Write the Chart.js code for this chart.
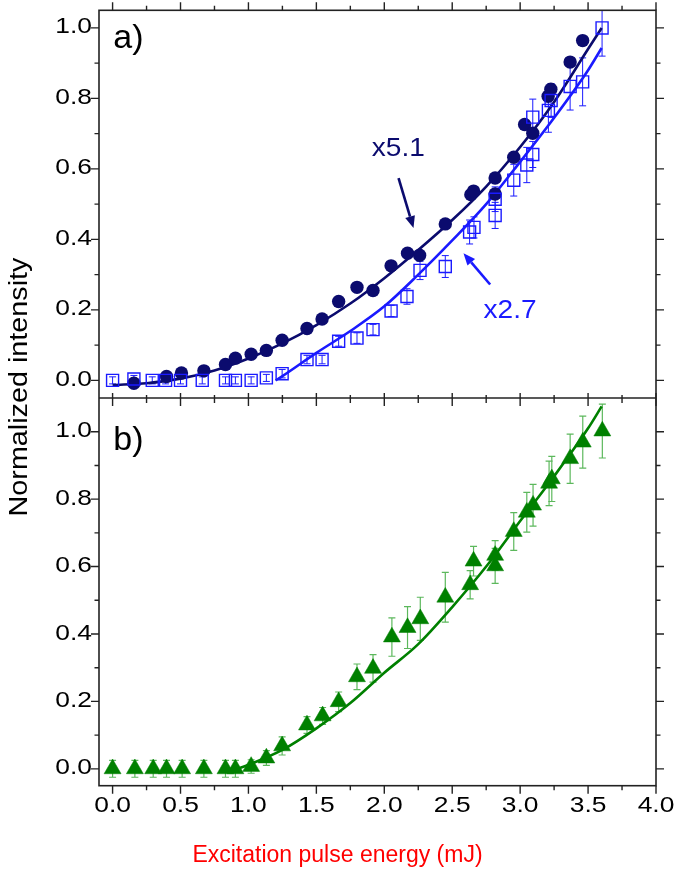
<!DOCTYPE html>
<html><head><meta charset="utf-8">
<script src="https://cdn.jsdelivr.net/npm/chart.js@4.4.1/dist/chart.umd.min.js"></script>
<style>html,body{margin:0;padding:0;background:#fff;}#wrap{width:675px;height:872px;}</style>
</head><body><div id="wrap"><canvas id="c" width="675" height="872"></canvas></div>
<script>
// ---------- ticks ----------
const xTicksMajor = [0, 0.5, 1.0, 1.5, 2.0, 2.5, 3.0, 3.5, 4.0];
const xTicksMinor = [0.25, 0.75, 1.25, 1.75, 2.25, 2.75, 3.25, 3.75];
const xTickLabels = ['0.0', '0.5', '1.0', '1.5', '2.0', '2.5', '3.0', '3.5', '4.0'];
const yTicksMajor = [0, 0.2, 0.4, 0.6, 0.8, 1.0];
const yTicksMinor = [0.1, 0.3, 0.5, 0.7, 0.9];
const yTickLabels = ['0.0', '0.2', '0.4', '0.6', '0.8', '1.0'];

// ---------- panel a: filled circles (x5.1) ----------
const circleX = [0.157, 0.397, 0.507, 0.672, 0.831, 0.904, 1.02, 1.132, 1.248, 1.431, 1.542, 1.664, 1.799, 1.917, 2.05, 2.171, 2.26, 2.449, 2.637, 2.657, 2.816, 2.816, 2.953, 3.033, 3.093, 3.206, 3.226, 3.368, 3.46];
const circleY = [-0.008, 0.011, 0.021, 0.027, 0.045, 0.063, 0.074, 0.085, 0.114, 0.147, 0.174, 0.224, 0.264, 0.255, 0.325, 0.361, 0.355, 0.444, 0.527, 0.537, 0.574, 0.529, 0.633, 0.726, 0.701, 0.806, 0.826, 0.903, 0.964];

// ---------- panel a: open squares (x2.7) ----------
const squareX = [0.0, 0.157, 0.292, 0.39, 0.5, 0.66, 0.831, 0.904, 1.02, 1.132, 1.248, 1.431, 1.542, 1.664, 1.799, 1.917, 2.05, 2.167, 2.263, 2.449, 2.628, 2.66, 2.816, 2.816, 2.953, 3.049, 3.093, 3.093, 3.208, 3.228, 3.368, 3.46, 3.603];
const squareY = [0.0, 0.004, 0.0, 0.0, 0.0, 0.0, 0.0, 0.0, 0.0, 0.007, 0.019, 0.059, 0.059, 0.111, 0.12, 0.144, 0.197, 0.238, 0.312, 0.323, 0.421, 0.434, 0.468, 0.514, 0.568, 0.611, 0.641, 0.747, 0.766, 0.794, 0.834, 0.847, 1.0];
const squareErr = [0.01, 0.01, 0.01, 0.01, 0.01, 0.01, 0.01, 0.01, 0.01, 0.01, 0.012, 0.012, 0.012, 0.014, 0.015, 0.015, 0.016, 0.022, 0.026, 0.031, 0.034, 0.03, 0.037, 0.035, 0.045, 0.05, 0.037, 0.051, 0.062, 0.048, 0.067, 0.068, 0.08];

// ---------- panel a: fit curves ----------
const navyFitX = [0, 0.25, 0.5, 0.75, 1.0, 1.25, 1.5, 1.75, 2.0, 2.25, 2.5, 2.75, 3.0, 3.25, 3.5, 3.6];
const navyFitY = [-0.013, -0.008, 0.005, 0.028, 0.062, 0.105, 0.157, 0.218, 0.29, 0.37, 0.455, 0.55, 0.662, 0.79, 0.94, 1.0];
const blueFitX = [1.2, 1.25, 1.5, 1.75, 2.0, 2.25, 2.5, 2.75, 3.0, 3.25, 3.5, 3.6];
const blueFitY = [0.0, 0.012, 0.078, 0.14, 0.21, 0.30, 0.397, 0.5, 0.62, 0.745, 0.88, 0.943];

// ---------- panel b: triangles ----------
const triX = [0.0, 0.164, 0.299, 0.397, 0.512, 0.672, 0.831, 0.904, 1.02, 1.132, 1.248, 1.431, 1.546, 1.664, 1.799, 1.917, 2.056, 2.171, 2.265, 2.449, 2.632, 2.657, 2.816, 2.816, 2.953, 3.049, 3.095, 3.213, 3.233, 3.368, 3.461, 3.605];
const triY = [0, 0, 0, 0, 0, 0, 0, 0, 0.007, 0.032, 0.068, 0.13, 0.157, 0.199, 0.273, 0.298, 0.391, 0.419, 0.445, 0.509, 0.546, 0.616, 0.602, 0.633, 0.704, 0.761, 0.782, 0.847, 0.86, 0.92, 0.969, 1.002];
const triErr = [0.025, 0.025, 0.025, 0.025, 0.025, 0.025, 0.025, 0.025, 0.02, 0.022, 0.027, 0.025, 0.025, 0.029, 0.038, 0.041, 0.057, 0.062, 0.064, 0.074, 0.042, 0.044, 0.052, 0.044, 0.056, 0.059, 0.062, 0.066, 0.067, 0.073, 0.077, 0.08];
const greenFitX = [0.92, 1.0, 1.25, 1.5, 1.75, 2.0, 2.25, 2.5, 2.75, 3.0, 3.25, 3.5, 3.6];
const greenFitY = [0.0, 0.012, 0.056, 0.12, 0.195, 0.285, 0.37, 0.48, 0.6, 0.735, 0.868, 1.01, 1.075];

// ---------- annotations (data coordinates) ----------
const annoLabels = ['x5.1', 'x2.7'];
const annoLabelX = [2.103, 2.926];
const annoLabelY = [0.657, 0.196];
const arrowFrom = [[2.105, 0.574], [2.779, 0.272]];
const arrowTo = [[2.215, 0.432], [2.583, 0.361]];
const panelLabels = ['a)', 'b)'];

const NAVY = '#0b0b6e', BLUE = '#1a1aff', GREEN = '#008000', GREEN_ERR = '#5cb85c';
const FONT = "'Liberation Sans', Arial, sans-serif";

const pts = (xs, ys) => xs.map((x, i) => ({x: x, y: ys[i]}));

function drawErr(chart, xs, ys, es, yId, color, lw) {
  const ctx = chart.ctx, sx = chart.scales.x, sy = chart.scales[yId];
  ctx.save();
  ctx.beginPath(); ctx.rect(sx.left, sy.top, sx.right - sx.left, sy.bottom - sy.top); ctx.clip();
  ctx.strokeStyle = color; ctx.lineWidth = lw;
  xs.forEach((x, i) => {
    const px = sx.getPixelForValue(x);
    const p1 = sy.getPixelForValue(ys[i] - es[i]);
    const p2 = sy.getPixelForValue(ys[i] + es[i]);
    ctx.beginPath();
    ctx.moveTo(px, p1); ctx.lineTo(px, p2);
    ctx.moveTo(px - 3.5, p1); ctx.lineTo(px + 3.5, p1);
    ctx.moveTo(px - 3.5, p2); ctx.lineTo(px + 3.5, p2);
    ctx.stroke();
  });
  ctx.restore();
}

function drawArrow(ctx, x1, y1, x2, y2, color) {
  const ang = Math.atan2(y2 - y1, x2 - x1), L = 12, W = 5;
  const bx = x2 - L * Math.cos(ang), by = y2 - L * Math.sin(ang);
  ctx.save();
  ctx.strokeStyle = color; ctx.fillStyle = color; ctx.lineWidth = 2.6;
  ctx.beginPath(); ctx.moveTo(x1, y1); ctx.lineTo(bx, by); ctx.stroke();
  ctx.beginPath();
  ctx.moveTo(x2, y2);
  ctx.lineTo(bx + W * Math.sin(ang), by - W * Math.cos(ang));
  ctx.lineTo(bx - W * Math.sin(ang), by + W * Math.cos(ang));
  ctx.closePath(); ctx.fill();
  ctx.restore();
}

function stretchText(ctx, txt, x, y, font, color, align, base, sx) {
  ctx.save();
  ctx.font = font; ctx.fillStyle = color; ctx.textAlign = align; ctx.textBaseline = base;
  ctx.translate(x, y); ctx.scale(sx, 1);
  ctx.fillText(txt, 0, 0);
  ctx.restore();
}

const deco = {
  id: 'deco',
  beforeDatasetsDraw(chart) {
    drawErr(chart, squareX, squareY, squareErr, 'yA', BLUE, 1);
    drawErr(chart, triX, triY, triErr, 'yB', GREEN_ERR, 1.2);
  },
  afterDatasetsDraw(chart) {
    const ctx = chart.ctx, sx = chart.scales.x, ya = chart.scales.yA, yb = chart.scales.yB;
    const L = sx.left, R = sx.right, T = ya.top, M = ya.bottom, B = yb.bottom;
    ctx.save();
    ctx.strokeStyle = '#222'; ctx.lineWidth = 1.6;
    ctx.strokeRect(L, T, R - L, B - T);
    ctx.beginPath(); ctx.moveTo(L, M); ctx.lineTo(R, M); ctx.stroke();
    ctx.lineWidth = 1.4;
    ctx.beginPath();
    const xt = (vals, big) => vals.forEach(v => {
      const p = sx.getPixelForValue(v);
      const l = big ? 8 : 4.5;
      ctx.moveTo(p, B); ctx.lineTo(p, B + l);
      ctx.moveTo(p, T); ctx.lineTo(p, T - l);
      ctx.moveTo(p, M - (big ? 5 : 3)); ctx.lineTo(p, M + (big ? 8 : 5));
    });
    xt(xTicksMajor, true); xt(xTicksMinor, false);
    const yt = (scale, vals, big) => vals.forEach(v => {
      const p = scale.getPixelForValue(v);
      const l = big ? 8 : 4.5;
      ctx.moveTo(L - l, p); ctx.lineTo(L, p);
      ctx.moveTo(R, p); ctx.lineTo(R + l, p);
    });
    [ya, yb].forEach(s => { yt(s, yTicksMajor, true); yt(s, yTicksMinor, false); });
    ctx.stroke();
    ctx.restore();

    // tick labels (positions from the library scales)
    const tf = '22px ' + FONT;
    xTicksMajor.forEach((v, i) => {
      stretchText(ctx, xTickLabels[i], sx.getPixelForValue(v), B + 20, tf, '#000', 'center', 'middle', 1.2);
    });
    [ya, yb].forEach(s => yTicksMajor.forEach((v, i) => {
      stretchText(ctx, yTickLabels[i], L - 7, s.getPixelForValue(v) - 0.5, tf, '#000', 'right', 'middle', 1.2);
    }));

    // panel labels
    stretchText(ctx, panelLabels[0], sx.getPixelForValue(0.005), ya.getPixelForValue(0.943), '34px ' + FONT, '#000', 'left', 'alphabetic', 1);
    stretchText(ctx, panelLabels[1], sx.getPixelForValue(0.005), yb.getPixelForValue(0.945), '34px ' + FONT, '#000', 'left', 'alphabetic', 1);

    // annotations
    const cols = [NAVY, BLUE];
    annoLabels.forEach((t, i) => {
      stretchText(ctx, t, sx.getPixelForValue(annoLabelX[i]), ya.getPixelForValue(annoLabelY[i]), '26px ' + FONT, cols[i], 'center', 'middle', 1.08);
      drawArrow(ctx, sx.getPixelForValue(arrowFrom[i][0]), ya.getPixelForValue(arrowFrom[i][1]),
        sx.getPixelForValue(arrowTo[i][0]), ya.getPixelForValue(arrowTo[i][1]), cols[i]);
    });

    // axis titles
    ctx.save();
    ctx.translate(20, (T + B) / 2 - 11);
    ctx.rotate(-Math.PI / 2);
    stretchText(ctx, 'Normalized intensity', 0, 0, '25px ' + FONT, '#000', 'center', 'middle', 1.15);
    ctx.restore();
    stretchText(ctx, 'Excitation pulse energy (mJ)', chart.width / 2, 856, '23px ' + FONT, '#ff0000', 'center', 'middle', 1);
  }
};

const yCommon = {
  type: 'linear', position: 'left', stack: 'panels', stackWeight: 1,
  grid: {display: false, drawTicks: false}, border: {display: false},
  afterBuildTicks: s => { s.ticks = yTicksMajor.map(v => ({value: v})); },
  ticks: {display: false},
  afterFit: s => { s.width = 99; s.paddingTop = 0; s.paddingBottom = 0; }
};

new Chart(document.getElementById('c'), {
  type: 'scatter',
  data: {
    datasets: [
      {label: 'x2.7', data: pts(squareX, squareY), yAxisID: 'yA', pointStyle: 'rect', pointRadius: 8.5,
        backgroundColor: 'rgba(0,0,0,0)', borderColor: BLUE, borderWidth: 1.4, order: 1},
      {label: 'x5.1', data: pts(circleX, circleY), yAxisID: 'yA', pointStyle: 'circle', pointRadius: 6.7,
        backgroundColor: NAVY, borderColor: NAVY, borderWidth: 0, order: 2},
      {label: 'b', data: pts(triX, triY), yAxisID: 'yB', pointStyle: 'triangle', pointRadius: 9.8,
        backgroundColor: GREEN, borderColor: GREEN, borderWidth: 0.5, order: 3},
      {label: 'fit navy', data: pts(navyFitX, navyFitY), yAxisID: 'yA', showLine: true, pointRadius: 0,
        borderColor: NAVY, borderWidth: 2.6, cubicInterpolationMode: 'monotone', order: 4},
      {label: 'fit blue', data: pts(blueFitX, blueFitY), yAxisID: 'yA', showLine: true, pointRadius: 0,
        borderColor: BLUE, borderWidth: 2.6, cubicInterpolationMode: 'monotone', order: 5},
      {label: 'fit green', data: pts(greenFitX, greenFitY), yAxisID: 'yB', showLine: true, pointRadius: 0,
        borderColor: GREEN, borderWidth: 2.6, cubicInterpolationMode: 'monotone', order: 6}
    ]
  },
  options: {
    responsive: false, animation: false, devicePixelRatio: 1,
    layout: {padding: {top: 8.3, right: 19, bottom: 0, left: 0}},
    plugins: {legend: {display: false}, tooltip: {enabled: false}},
    scales: {
      x: {
        type: 'linear', position: 'bottom', min: -0.1, max: 4.0,
        grid: {display: false, drawTicks: false}, border: {display: false},
        afterBuildTicks: s => { s.ticks = xTicksMajor.map(v => ({value: v})); },
        ticks: {display: false},
        afterFit: s => { s.height = 86.3; s.paddingLeft = 0; s.paddingRight = 0; }
      },
      yA: Object.assign({}, yCommon, {min: -0.05, max: 1.05, weight: 2}),
      yB: Object.assign({}, yCommon, {min: -0.05, max: 1.1, weight: 1})
    }
  },
  plugins: [deco]
});
</script>
</body></html>
